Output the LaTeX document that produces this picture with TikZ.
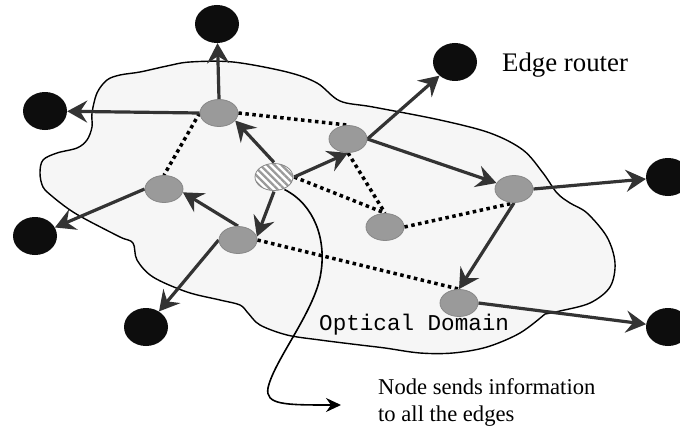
\documentclass[tikz,border=0pt]{standalone}
\usepackage{fontspec}
\setmainfont{Liberation Serif}
\newfontfamily\monofont{Liberation Mono}
\usetikzlibrary{arrows.meta,patterns.meta,shapes.geometric,backgrounds}
\definecolor{arrowgray}{HTML}{333333}
\definecolor{nodegray}{HTML}{9A9A9A}
\definecolor{nodeedge}{HTML}{888888}
\definecolor{cloudfill}{HTML}{F6F6F6}
\begin{document}
\begin{tikzpicture}[x=1pt,y=-1pt,
  router/.style={ellipse, fill=black!95, minimum width=44pt, minimum height=38pt, inner sep=0pt},
  core/.style={ellipse, fill=nodegray, draw=nodeedge, line width=0.8pt, minimum width=38pt, minimum height=27pt, inner sep=0pt},
  hatched/.style={core, preaction={fill=white}, pattern={Lines[angle=-45,distance=5pt,line width=2.3pt]}, pattern color=nodegray},
  link/.style={draw=arrowgray, line width=3.2pt, -{Stealth[length=20pt,width=22pt,inset=7pt]}},
  dotline/.style={draw=black, line width=3.5pt, dash pattern=on 3.5pt off 3.5pt},
  callout/.style={draw=black, line width=1.6pt, -{Stealth[length=15pt,width=14pt,inset=5pt]}}
]
\useasboundingbox (0,0) rectangle (680,428);

% routers (black)
\node[router] (T1) at (217,24) {};
\node[router] (L1) at (45,111) {};
\node[router] (TR) at (455,62) {};
\node[router] (R)  at (668,177) {};
\node[router] (LL) at (35,236) {};
\node[router] (BL) at (146,327) {};
\node[router] (BR) at (668,327) {};

% core nodes (gray)
\node[core] (A) at (219,113) {};
\node[core] (B) at (348,139) {};
\node[hatched] (C) at (274,177) {};
\node[core] (D) at (164,189) {};
\node[core] (E) at (514,189) {};
\node[core] (G) at (385,227) {};
\node[core] (F) at (238,240) {};
\node[core] (H) at (459,303) {};

\coordinate (tipend) at (341,405);

% texts
\node[anchor=base west, inner sep=0pt, font=\fontsize{26.8}{30}\selectfont] (lab1) at (502,71) {Edge router};
\node[anchor=base west, inner sep=0pt, font=\monofont\fontsize{22.6}{26}\selectfont] (lab2) at (319,330) {Optical Domain};
\node[anchor=base west, inner sep=0pt, font=\fontsize{22.6}{27}\selectfont] (lab3) at (378,394) {Node sends information};
\node[anchor=base west, inner sep=0pt, font=\fontsize{22.6}{27}\selectfont] (lab4) at (378,421) {to all the edges};

\begin{scope}[on background layer]
  % cloud
  \draw[fill=cloudfill, line width=1.4pt, line join=round]
    plot[smooth, tension=0.55] coordinates {
      (545,314) (520,333) (487,347) (453,353) (420,353) (385,348) (360,345)
      (320,340) (287,335) (260,325) (248,313) (240,305) (220,300) (187,292)
      (153,277) (137,260) (133,243) (120,237) (87,220) (70,210) (53,197)
      (43,187) (40,173) (43,160) (57,153) (77,148) (87,140) (92,127) (92,113)
      (97,93) (107,80) (120,75) (140,72) (167,66) (190,62) (233,62) (287,72)
      (317,83) (340,101) (373,107) (440,120) (490,133) (523,150) (543,173)
      (557,193) (570,203) (587,213) (607,237) (615,263) (610,287) (590,303)
      (560,311) (545,314)} -- cycle;

  % dotted links
  \draw[dotline] (A.west) -- (D.north);
  \draw[dotline] (A.east) -- (B.north);
  \draw[dotline] (C.east) -- (G.north);
  \draw[dotline] (B.south) -- (G.north);
  \draw[dotline] (G.east) -- (E.south);
  \draw[dotline] (F.east) -- (H.north);

  % arrows
  \draw[link] (A.west) -- (L1);
  \draw[link] (A.north) -- (T1);
  \draw[link] (B.east) -- (TR);
  \draw[link] (B.east) -- (E);
  \draw[link] (E.east) -- (R);
  \draw[link] (E.south) -- (H.north);
  \draw[link] (H.east) -- (BR);
  \draw[link] (C.north) -- (A.-25);
  \draw[link] (C.east) -- (B.south);
  \draw[link] (C.south) -- (F.10);
  \draw[link] (F.north) -- (D.-10);
  \draw[link] (D.west) -- (LL);
  \draw[link] (F.west) -- (BL);

  % callout curve
  \draw[callout] (C.-50) .. controls (315,205) and (326,240) .. (321,272)
     .. controls (316,310) and (274,360) .. (268,388)
     .. controls (265,405) and (285,405) .. (tipend);
\end{scope}
\end{tikzpicture}
\end{document}
